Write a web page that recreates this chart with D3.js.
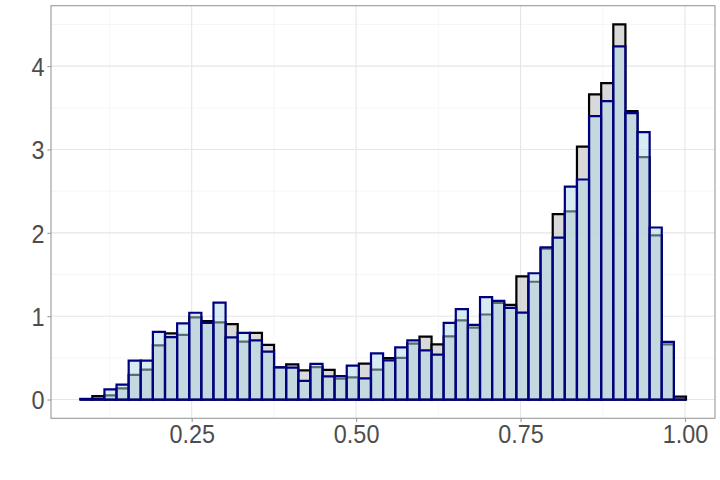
<!DOCTYPE html>
<html>
<head>
<meta charset="utf-8">
<script src="https://cdn.jsdelivr.net/npm/d3@7"></script>
<style>
  html, body { margin: 0; padding: 0; background: #fff; }
  svg { display: block; }
</style>
</head>
<body>
<svg id="chart" width="720" height="480"></svg>
<script>
// ---- data (density per bin, 50 bins) ----
const binStart = 0.0805;
const binWidth = 0.01842;
const seriesA = [ // black outline, grey fill
  0.0, 0.04, 0.05, 0.135, 0.295, 0.36, 0.65, 0.795, 0.775, 0.985,
  0.94, 0.925, 0.905, 0.695, 0.80, 0.655, 0.385, 0.423, 0.351, 0.39,
  0.357, 0.25, 0.265, 0.432, 0.36, 0.497, 0.499, 0.671, 0.755, 0.663,
  0.757, 0.951, 0.863, 1.02, 1.16, 1.135, 1.477, 1.413, 1.81, 2.225,
  2.258, 3.035, 3.66, 3.795, 4.5, 3.46, 2.909, 1.97, 0.663, 0.035
];
const seriesB = [ // navy outline, light blue fill
  0.008, 0.01, 0.123, 0.18, 0.467, 0.467, 0.813, 0.75, 0.915, 1.041,
  0.92, 1.163, 0.747, 0.80, 0.711, 0.575, 0.385, 0.384, 0.225, 0.427,
  0.279, 0.281, 0.407, 0.255, 0.553, 0.471, 0.627, 0.711, 0.591, 0.54,
  0.919, 1.085, 0.895, 1.228, 1.183, 1.10, 1.043, 1.515, 1.825, 1.942,
  2.555, 2.64, 3.40, 3.58, 4.236, 3.437, 3.209, 2.064, 0.691, 0.0
];
const xTicks = [0.25, 0.50, 0.75, 1.00];
const xTickLabels = ["0.25", "0.50", "0.75", "1.00"];
const xMinor = [0.125, 0.375, 0.625, 0.875];
const yTicks = [0, 1, 2, 3, 4];
const yMinor = [0.5, 1.5, 2.5, 3.5, 4.5];

// ---- layout ----
const FONT = "'Liberation Sans', Arial, Helvetica, sans-serif";
const FONT_SIZE = 26;
const SQUEEZE = 0.9;
const panel = { left: 51, right: 715, top: 5.7, bottom: 418.3 };
const svg = d3.select("#chart");

const x = d3.scaleLinear().domain([0.0361, 1.0456]).range([panel.left, panel.right]);
const y = d3.scaleLinear().domain([-0.225, 4.725]).range([panel.bottom, panel.top]);

const g = svg.append("g");

g.append("rect")
  .attr("x", panel.left).attr("y", panel.top)
  .attr("width", panel.right - panel.left).attr("height", panel.bottom - panel.top)
  .attr("fill", "#ffffff");

// grid
const grid = g.append("g");
grid.selectAll(".xminor").data(xMinor).join("line")
  .attr("x1", d => x(d)).attr("x2", d => x(d))
  .attr("y1", panel.top).attr("y2", panel.bottom)
  .attr("stroke", "#f0f0f0").attr("stroke-width", 0.6);
grid.selectAll(".yminor").data(yMinor).join("line")
  .attr("y1", d => y(d)).attr("y2", d => y(d))
  .attr("x1", panel.left).attr("x2", panel.right)
  .attr("stroke", "#f0f0f0").attr("stroke-width", 0.6);
grid.selectAll(".xmajor").data(xTicks).join("line")
  .attr("x1", d => x(d)).attr("x2", d => x(d))
  .attr("y1", panel.top).attr("y2", panel.bottom)
  .attr("stroke", "#e6e6e6").attr("stroke-width", 1.1);
grid.selectAll(".ymajor").data(yTicks).join("line")
  .attr("y1", d => y(d)).attr("y2", d => y(d))
  .attr("x1", panel.left).attr("x2", panel.right)
  .attr("stroke", "#e6e6e6").attr("stroke-width", 1.1);

function barPath(v, i) {
  const x0 = x(binStart + i * binWidth);
  const x1 = x(binStart + (i + 1) * binWidth);
  const y0 = y(0), y1 = y(v);
  return `M${x0},${y0}V${y1}H${x1}V${y0}Z`;
}

// series A
g.append("g").selectAll("path").data(seriesA).join("path")
  .attr("d", (d, i) => barPath(d, i))
  .attr("fill", "#d0d0d0").attr("fill-opacity", 0.8)
  .attr("stroke", "#000000").attr("stroke-width", 2.2);

// series B
g.append("g").selectAll("path").data(seriesB).join("path")
  .attr("d", (d, i) => barPath(d, i))
  .attr("fill", "#add8e6").attr("fill-opacity", 0.5)
  .attr("stroke", "#000080").attr("stroke-width", 2.2);

// panel border
g.append("rect")
  .attr("x", panel.left).attr("y", panel.top)
  .attr("width", panel.right - panel.left).attr("height", panel.bottom - panel.top)
  .attr("fill", "none").attr("stroke", "#9a9a9a").attr("stroke-width", 1.1);

// axes
const xAxis = d3.axisBottom(x).tickValues(xTicks)
  .tickFormat((d, i) => xTickLabels[i]).tickSizeInner(3.6).tickSizeOuter(0);
const gx = svg.append("g").attr("transform", `translate(0,${panel.bottom})`).call(xAxis);
gx.select(".domain").remove();
gx.selectAll(".tick line").attr("stroke", "#9a9a9a").attr("stroke-width", 1.1);
gx.selectAll(".tick text").attr("fill", "#4d4d4d").attr("font-size", FONT_SIZE)
  .attr("font-family", FONT)
  .attr("dy", null).attr("y", 24.5)
  .attr("transform", `scale(${SQUEEZE},1)`);

const yAxis = d3.axisLeft(y).tickValues(yTicks).tickFormat(d3.format("d"))
  .tickSizeInner(3.6).tickSizeOuter(0).tickPadding(2.5);
const gy = svg.append("g").attr("transform", `translate(${panel.left},0)`).call(yAxis);
gy.select(".domain").remove();
gy.selectAll(".tick line").attr("stroke", "#9a9a9a").attr("stroke-width", 1.1);
gy.selectAll(".tick text").attr("fill", "#4d4d4d").attr("font-size", FONT_SIZE)
  .attr("font-family", FONT)
  .attr("dy", null).attr("y", 9.3)
  .attr("x", -6.4 / SQUEEZE)
  .attr("transform", `scale(${SQUEEZE},1)`);
</script>
</body>
</html>
